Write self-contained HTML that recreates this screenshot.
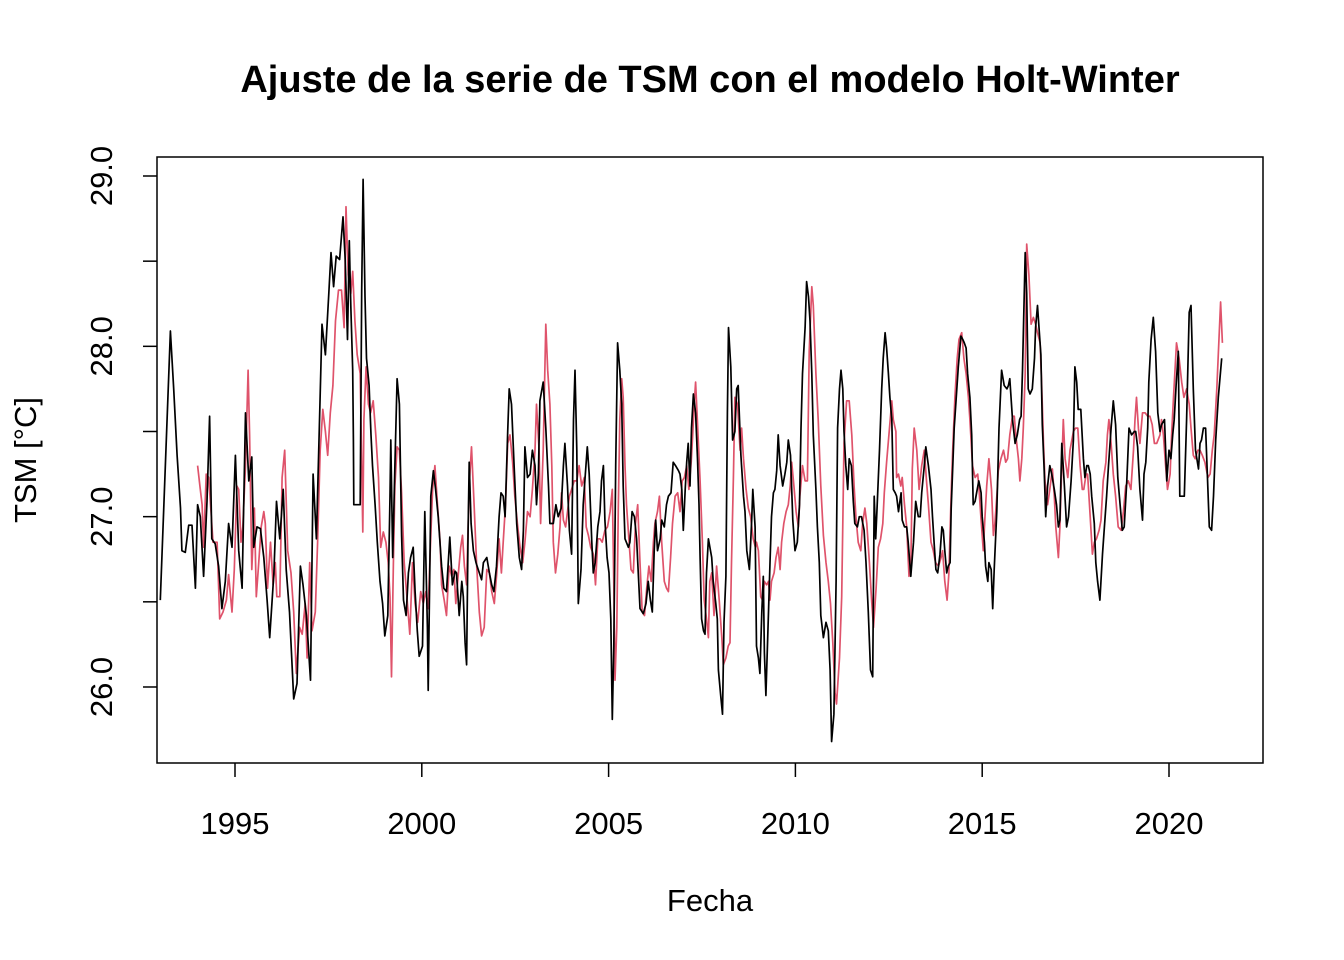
<!DOCTYPE html>
<html><head><meta charset="utf-8"><style>
html,body{margin:0;padding:0;background:#fff;}
svg{display:block;font-family:"Liberation Sans",Arial,sans-serif;}
</style></head><body>
<svg id="chart" width="1344" height="960" viewBox="0 0 1344 960" xmlns="http://www.w3.org/2000/svg">
<rect x="0" y="0" width="1344" height="960" fill="#fff"/>
<text x="710" y="92" text-anchor="middle" font-size="38" font-weight="bold">Ajuste de la serie de TSM con el modelo Holt-Winter</text>
<text x="710" y="911" text-anchor="middle" font-size="31">Fecha</text>
<text transform="translate(36,460) rotate(-90)" text-anchor="middle" font-size="31">TSM [°C]</text>
<g id="xaxis"></g>
<g id="yaxis"></g>
<g id="series"></g>
<rect x="157" y="157" width="1106" height="606" fill="none" stroke="#000" stroke-width="1.5"/>
</svg>
<script>
const xTicks=[1995,2000,2005,2010,2015,2020];
const yTicks=[26,26.5,27,27.5,28,28.5,29];
const yLabels=[26,27,28,29];
const blackT=[1993.00,1993.27,1993.36,1993.45,1993.54,1993.58,1993.67,1993.76,1993.85,1993.94,1994.00,1994.07,1994.16,1994.25,1994.32,1994.38,1994.47,1994.56,1994.65,1994.74,1994.83,1994.92,1995.01,1995.10,1995.19,1995.28,1995.37,1995.45,1995.50,1995.59,1995.68,1995.77,1995.86,1995.93,1996.04,1996.11,1996.20,1996.29,1996.37,1996.46,1996.57,1996.66,1996.75,1996.82,1996.91,1997.02,1997.09,1997.18,1997.27,1997.33,1997.42,1997.51,1997.57,1997.64,1997.71,1997.80,1997.89,1997.95,
1998.01,1998.06,1998.10,1998.15,1998.17,1998.18,1998.35,1998.39,1998.43,1998.48,1998.52,1998.59,1998.64,1998.68,1998.75,1998.81,1998.88,1998.95,1999.01,1999.09,1999.15,1999.17,1999.22,1999.28,1999.34,1999.40,1999.46,1999.51,1999.58,1999.64,1999.70,1999.77,1999.82,1999.88,1999.93,2000.02,2000.08,2000.15,2000.17,2000.24,2000.31,2000.37,2000.44,2000.53,2000.59,2000.66,2000.75,2000.82,2000.89,2000.93,2001.00,2001.07,2001.11,2001.16,2001.20,2001.24,2001.27,2001.32,2001.38,2001.45,2001.51,2001.60,2001.65,2001.74,2001.81,2001.87,2001.93,2002.00,2002.07,2002.12,2002.18,2002.23,2002.30,2002.34,2002.40,2002.47,2002.54,2002.61,2002.67,2002.72,
2002.76,2002.83,2002.90,2002.96,2003.03,2003.07,2003.12,2003.16,2003.25,2003.32,2003.39,2003.43,2003.52,2003.59,2003.65,2003.73,2003.79,2003.83,2003.90,2003.95,2004.01,2004.06,2004.10,2004.15,2004.19,2004.26,2004.32,2004.37,2004.43,2004.48,2004.55,2004.59,2004.64,2004.71,2004.77,2004.81,2004.86,2004.90,2004.96,2005.01,2005.06,2005.10,2005.14,2005.19,2005.24,2005.30,2005.35,2005.39,2005.44,2005.53,2005.57,2005.63,2005.69,2005.75,2005.84,2005.93,2006.00,2006.06,2006.12,2006.17,2006.22,2006.26,2006.31,2006.38,2006.42,2006.49,2006.55,2006.60,2006.67,2006.73,2006.79,2006.87,2006.91,2006.96,2007.00,2007.05,2007.09,2007.13,2007.18,2007.22,2007.27,2007.33,2007.38,2007.42,2007.45,2007.49,2007.54,2007.58,2007.62,2007.67,
2007.76,2007.80,2007.87,2007.91,2007.94,2008.00,2008.05,2008.09,2008.14,2008.18,2008.21,2008.27,2008.32,2008.38,2008.43,2008.47,2008.54,2008.61,2008.65,2008.70,2008.77,2008.83,2008.86,2008.92,2008.96,2009.01,2009.05,2009.10,2009.14,2009.17,2009.21,2009.28,2009.32,2009.36,2009.41,2009.45,2009.50,2009.54,2009.59,2009.66,2009.72,2009.77,2009.81,2009.87,2009.93,2009.99,2010.05,2010.11,2010.15,2010.19,2010.26,2010.30,2010.35,2010.39,2010.44,2010.48,2010.55,2010.59,2010.64,2010.68,2010.75,2010.82,2010.88,2010.93,2010.97,2011.03,2011.09,2011.13,2011.18,2011.22,2011.27,2011.30,2011.35,2011.40,2011.44,2011.50,2011.55,2011.59,2011.66,2011.71,2011.77,2011.84,2011.89,2011.95,2012.01,2012.07,2012.11,2012.15,2012.19,2012.25,2012.31,2012.35,2012.40,2012.44,2012.49,2012.53,2012.58,2012.62,
2012.67,2012.71,2012.76,2012.83,2012.86,2012.92,2012.98,2013.02,2013.09,2013.16,2013.22,2013.29,2013.34,2013.38,2013.45,2013.49,2013.56,2013.63,2013.67,2013.72,2013.76,2013.81,2013.87,2013.92,2013.96,2014.00,2014.05,2014.09,2014.14,2014.17,2014.25,2014.36,2014.43,2014.48,2014.52,2014.57,2014.61,2014.67,2014.72,2014.76,2014.81,2014.85,2014.91,2014.97,2015.00,2015.06,2015.09,2015.15,2015.18,2015.24,2015.28,2015.32,2015.39,2015.45,2015.52,2015.59,2015.66,2015.70,2015.74,2015.81,2015.88,2015.94,2016.00,2016.04,2016.08,2016.15,2016.19,2016.23,2016.28,2016.34,2016.40,2016.43,2016.48,2016.52,2016.57,2016.61,2016.66,2016.70,2016.75,2016.81,2016.86,2016.93,2016.99,2017.04,2017.08,2017.13,2017.20,2017.26,2017.31,2017.38,2017.44,
2017.48,2017.53,2017.57,2017.64,2017.71,2017.75,2017.80,2017.84,2017.89,2017.93,2018.00,2018.04,2018.09,2018.15,2018.22,2018.27,2018.33,2018.38,2018.45,2018.51,2018.57,2018.63,2018.69,2018.75,2018.80,2018.87,2018.93,2019.00,2019.07,2019.11,2019.16,2019.22,2019.29,2019.33,2019.38,2019.43,2019.46,2019.52,2019.58,2019.64,2019.70,2019.76,2019.80,2019.88,2019.94,2020.00,2020.05,2020.10,2020.14,2020.19,2020.25,2020.29,2020.34,2020.41,2020.47,2020.54,2020.59,2020.65,2020.71,2020.79,2020.83,2020.87,2020.92,2020.98,2021.04,2021.08,2021.14,2021.19,2021.25,2021.32,2021.41];
const blackV=[26.51,28.09,27.75,27.36,27.05,26.80,26.79,26.95,26.95,26.58,27.07,27.00,26.65,27.09,27.59,26.87,26.84,26.71,26.46,26.62,26.96,26.82,27.36,26.80,26.58,27.61,27.21,27.35,26.82,26.94,26.93,26.76,26.51,26.29,26.67,27.09,26.87,27.16,26.69,26.44,25.93,26.02,26.71,26.60,26.42,26.04,27.25,26.87,27.63,28.13,27.95,28.31,28.55,28.35,28.53,28.51,28.76,28.51,
28.04,28.62,28.24,27.86,27.45,27.07,27.07,28.33,28.98,28.29,27.93,27.77,27.48,27.30,27.07,26.85,26.62,26.49,26.30,26.42,27.12,27.45,26.76,27.30,27.81,27.66,26.89,26.51,26.42,26.67,26.76,26.82,26.56,26.33,26.18,26.24,27.03,26.35,25.98,27.12,27.27,27.16,27.00,26.71,26.58,26.56,26.88,26.60,26.68,26.67,26.42,26.62,26.53,26.26,26.13,26.92,27.32,26.96,26.80,26.73,26.69,26.63,26.73,26.76,26.67,26.60,26.56,26.71,27.00,27.14,27.12,27.00,27.50,27.75,27.66,27.30,26.96,26.76,26.69,26.92,
27.41,27.23,27.25,27.39,27.30,27.07,27.25,27.68,27.79,27.52,27.18,26.96,26.96,27.07,27.00,27.05,27.30,27.43,27.18,26.92,26.78,27.57,27.86,27.39,26.49,26.69,27.07,27.23,27.41,27.25,26.85,26.67,26.73,26.94,27.03,27.21,27.30,26.98,26.76,26.67,26.40,25.81,26.24,27.30,28.02,27.86,27.66,27.18,26.87,26.82,26.85,27.03,27.00,26.87,26.46,26.43,26.49,26.62,26.51,26.44,26.80,26.98,26.80,26.87,26.98,26.94,27.07,27.12,27.14,27.32,27.30,27.27,27.25,27.16,26.92,27.16,27.32,27.43,27.18,27.52,27.72,27.61,27.34,27.07,26.76,26.40,26.33,26.31,26.67,26.87,26.76,
26.62,26.49,26.40,26.10,25.95,25.84,26.38,26.65,27.61,28.11,27.88,27.45,27.50,27.75,27.77,27.36,27.12,27.03,26.80,26.69,26.98,27.16,26.94,26.24,26.17,26.08,26.44,26.65,26.20,25.95,26.44,26.73,27.00,27.14,27.16,27.27,27.48,27.30,27.18,27.25,27.32,27.45,27.36,26.98,26.80,26.85,27.07,27.52,27.84,28.11,28.38,28.29,28.15,27.84,27.48,27.16,26.94,26.73,26.42,26.29,26.38,26.33,26.10,25.68,25.84,26.62,27.52,27.75,27.86,27.75,27.50,27.30,27.16,27.34,27.30,27.09,26.96,26.94,27.00,27.00,26.92,26.73,26.44,26.10,26.06,27.12,26.87,27.07,27.39,27.75,27.93,28.08,27.99,27.84,27.70,27.57,27.16,27.14,27.12,27.03,
27.14,26.98,26.94,26.94,26.85,26.65,26.85,27.09,27.00,27.00,27.14,27.30,27.41,27.30,27.16,27.00,26.82,26.69,26.67,26.78,26.94,26.92,26.80,26.67,26.71,26.73,27.05,27.52,27.88,28.06,28.04,28.02,27.99,27.84,27.70,27.48,27.07,27.09,27.14,27.21,27.14,27.00,26.85,26.71,26.62,26.73,26.69,26.46,26.69,27.03,27.52,27.86,27.77,27.75,27.77,27.81,27.57,27.43,27.48,27.57,27.59,27.86,28.55,28.31,27.75,27.72,27.75,27.93,28.11,28.24,28.11,27.95,27.54,27.27,27.00,27.18,27.30,27.25,27.16,27.07,26.94,26.98,27.43,27.18,26.94,27.00,27.21,27.45,27.88,27.79,27.63,
27.63,27.34,27.23,27.30,27.30,27.25,27.12,26.96,26.73,26.62,26.51,26.78,26.94,27.12,27.30,27.52,27.68,27.54,27.23,27.07,26.92,26.94,27.21,27.52,27.48,27.50,27.50,27.41,27.16,26.98,27.25,27.32,27.52,27.79,28.04,28.17,27.97,27.61,27.50,27.54,27.57,27.21,27.39,27.34,27.48,27.57,27.77,27.97,27.12,27.12,27.12,27.57,28.20,28.24,27.75,27.39,27.28,27.43,27.45,27.52,27.52,27.16,26.94,26.92,27.12,27.45,27.70,27.93,27.90,27.94,27.94];
const redT=[1994.00,1994.07,1994.12,1994.16,1994.23,1994.30,1994.34,1994.41,1994.52,1994.59,1994.68,1994.77,1994.83,1994.92,1994.98,1995.05,1995.10,1995.16,1995.21,1995.28,1995.35,1995.39,1995.45,1995.52,1995.57,1995.63,1995.70,1995.77,1995.81,1995.87,1995.95,1996.02,1996.08,1996.12,1996.20,1996.26,1996.33,1996.41,1996.50,1996.57,1996.64,1996.73,1996.80,1996.88,1996.93,1997.00,1997.06,1997.15,1997.21,1997.28,1997.35,1997.42,1997.48,1997.55,1997.62,1997.69,1997.77,
1997.85,1997.92,1997.97,1998.03,1998.10,1998.15,1998.21,1998.27,1998.35,1998.42,1998.45,1998.51,1998.57,1998.63,1998.70,1998.77,1998.84,1998.90,1998.97,1999.04,1999.10,1999.15,1999.19,1999.24,1999.28,1999.34,1999.40,1999.46,1999.53,1999.59,1999.68,1999.75,1999.82,1999.89,1999.97,2000.04,2000.11,2000.17,2000.24,2000.29,2000.35,2000.42,2000.49,2000.53,2000.60,2000.66,2000.73,2000.80,2000.86,2000.91,2000.98,2001.04,2001.09,2001.14,2001.20,2001.27,2001.33,2001.40,2001.47,2001.54,2001.60,2001.67,2001.74,2001.81,2001.87,2001.94,2002.00,2002.07,2002.13,2002.18,2002.24,2002.30,2002.36,2002.43,2002.49,2002.56,2002.63,2002.70,
2002.76,2002.83,2002.90,2002.96,2003.03,2003.07,2003.14,2003.18,2003.25,2003.32,2003.37,2003.43,2003.48,2003.52,2003.58,2003.64,2003.70,2003.74,2003.79,2003.85,2003.90,2003.95,2004.01,2004.08,2004.15,2004.21,2004.28,2004.35,2004.40,2004.46,2004.52,2004.59,2004.65,2004.71,2004.77,2004.83,2004.90,2004.97,2005.04,2005.10,2005.14,2005.17,2005.22,2005.26,2005.30,2005.35,2005.39,2005.44,2005.48,2005.55,2005.60,2005.66,2005.72,2005.78,2005.84,2005.90,2005.96,2006.02,2006.08,2006.14,2006.20,2006.24,2006.31,2006.36,2006.42,2006.49,2006.55,2006.60,2006.66,2006.71,2006.78,2006.85,2006.91,2006.97,2007.03,2007.09,2007.15,2007.21,2007.25,2007.29,2007.33,2007.38,2007.45,2007.51,2007.56,2007.62,2007.67,
2007.71,2007.76,2007.82,2007.89,2007.96,2008.03,2008.07,2008.14,2008.20,2008.25,2008.29,2008.34,2008.38,2008.45,2008.52,2008.56,2008.61,2008.68,2008.74,2008.80,2008.87,2008.93,2008.96,2009.01,2009.07,2009.12,2009.17,2009.23,2009.28,2009.32,2009.36,2009.43,2009.48,2009.54,2009.59,2009.63,2009.69,2009.75,2009.81,2009.86,2009.90,2009.96,2010.02,2010.08,2010.12,2010.19,2010.26,2010.32,2010.37,2010.44,2010.48,2010.55,2010.61,2010.68,2010.75,2010.82,2010.88,2010.94,2011.00,2011.06,2011.10,2011.18,2011.24,2011.30,2011.37,2011.44,2011.51,2011.57,2011.62,2011.68,2011.75,2011.80,2011.86,2011.91,2011.98,2012.04,2012.09,2012.16,2012.22,2012.28,2012.34,2012.38,2012.44,2012.51,2012.58,2012.62,2012.69,
2012.71,2012.76,2012.82,2012.86,2012.92,2012.98,2013.04,2013.09,2013.13,2013.18,2013.25,2013.31,2013.38,2013.45,2013.51,2013.56,2013.63,2013.69,2013.75,2013.83,2013.90,2013.94,2014.00,2014.06,2014.11,2014.17,2014.21,2014.27,2014.33,2014.38,2014.45,2014.51,2014.57,2014.63,2014.67,2014.74,2014.81,2014.88,2014.91,2014.97,2015.03,2015.07,2015.12,2015.18,2015.25,2015.30,2015.34,2015.39,2015.43,2015.50,2015.57,2015.63,2015.68,2015.74,2015.81,2015.86,2015.90,2015.97,2016.01,2016.06,2016.10,2016.15,2016.19,2016.25,2016.31,2016.37,2016.43,2016.48,2016.55,2016.59,2016.64,2016.68,2016.75,2016.81,2016.88,2016.93,2016.97,2017.04,2017.08,2017.13,2017.17,2017.22,2017.29,2017.35,2017.44,
2017.50,2017.56,2017.62,2017.68,2017.72,2017.78,2017.82,2017.89,2017.95,2018.00,2018.06,2018.13,2018.18,2018.24,2018.31,2018.35,2018.39,2018.45,2018.51,2018.57,2018.64,2018.72,2018.78,2018.84,2018.91,2018.98,2019.05,2019.09,2019.13,2019.18,2019.22,2019.29,2019.36,2019.43,2019.49,2019.55,2019.61,2019.67,2019.76,2019.80,2019.85,2019.91,2019.96,2020.03,2020.07,2020.12,2020.16,2020.20,2020.27,2020.34,2020.40,2020.47,2020.54,2020.59,2020.65,2020.70,2020.77,2020.83,2020.89,2020.96,2021.04,2021.10,2021.16,2021.21,2021.28,2021.34,2021.38,2021.43];
const redV=[27.30,27.16,27.07,26.82,27.25,27.23,27.09,26.85,26.85,26.40,26.44,26.51,26.66,26.44,26.69,27.18,27.16,26.85,26.94,27.30,27.86,27.48,26.69,27.05,26.53,26.71,26.94,27.03,26.96,26.58,26.85,26.60,26.73,26.53,26.53,27.23,27.39,26.80,26.67,26.44,26.08,26.35,26.31,26.49,26.17,26.73,26.33,26.44,26.85,27.39,27.63,27.50,27.36,27.61,27.77,28.15,28.33,
28.33,28.11,28.82,28.42,28.31,28.44,28.15,27.95,27.84,26.91,27.57,27.88,27.66,27.61,27.68,27.48,27.23,26.82,26.91,26.85,26.73,26.53,26.06,26.73,27.18,27.41,27.39,27.14,26.73,26.56,26.31,26.73,26.49,26.38,26.56,26.49,26.56,26.46,26.89,27.16,27.30,27.07,26.85,26.60,26.51,26.42,26.71,26.65,26.69,26.49,26.67,26.82,26.89,26.71,26.60,27.18,27.41,27.07,26.71,26.44,26.30,26.35,26.69,26.67,26.56,26.49,26.65,26.87,26.67,26.85,27.07,27.43,27.48,27.32,27.12,26.96,26.82,26.73,
26.85,27.03,27.00,27.16,27.39,27.66,27.39,26.96,27.39,28.13,27.86,27.66,27.30,26.85,26.67,26.78,26.94,27.14,26.98,26.94,27.03,27.12,27.16,27.21,27.21,27.30,27.18,27.23,26.94,26.89,26.82,26.78,26.60,26.87,26.87,26.85,26.92,26.94,27.03,27.16,26.60,26.04,26.35,27.05,27.57,27.81,27.70,27.30,27.07,26.85,26.69,26.67,26.96,27.07,26.73,26.44,26.42,26.58,26.71,26.62,26.85,26.96,27.03,27.12,26.85,26.62,26.58,26.56,26.76,26.96,27.12,27.14,27.03,27.21,27.23,27.30,27.16,27.32,27.48,27.66,27.79,27.55,27.21,26.85,26.51,26.40,26.29,26.62,26.67,
26.42,26.71,26.51,26.29,26.13,26.17,26.24,26.26,26.73,27.23,27.70,27.66,27.39,27.52,27.34,27.16,27.05,27.00,26.87,26.82,26.85,26.80,26.53,26.51,26.62,26.60,26.62,26.51,26.62,26.67,26.76,26.82,26.69,26.85,26.96,27.03,27.07,27.18,27.32,27.18,27.03,26.94,27.12,27.30,27.21,27.21,27.97,28.35,28.24,27.84,27.57,27.18,26.89,26.73,26.62,26.49,26.26,25.97,25.90,26.17,26.53,27.43,27.68,27.68,27.48,27.18,27.00,26.85,26.80,26.96,27.05,26.96,26.73,26.51,26.35,26.58,26.82,26.87,26.96,27.14,27.32,27.50,27.68,27.57,27.50,27.23,27.25,
27.18,27.23,27.07,26.94,26.65,26.69,27.28,27.52,27.39,27.16,27.30,27.39,27.21,27.07,26.85,26.80,26.73,26.71,26.76,26.80,26.62,26.51,26.67,27.14,27.39,27.70,27.93,28.04,28.08,27.93,27.84,27.70,27.57,27.30,27.23,27.25,27.18,26.98,26.80,26.98,27.18,27.34,27.16,26.89,26.96,27.12,27.27,27.34,27.39,27.32,27.34,27.48,27.59,27.59,27.48,27.34,27.21,27.34,27.52,27.84,28.60,28.42,28.13,28.17,28.13,28.08,28.02,27.79,27.43,27.21,27.07,27.16,27.28,27.12,26.94,26.76,26.94,27.30,27.57,27.34,27.23,27.39,27.50,27.52,27.52,
27.30,27.16,27.16,27.25,27.25,27.00,26.78,26.85,26.87,26.92,26.98,27.21,27.32,27.48,27.57,27.43,27.25,27.12,26.94,26.92,27.03,27.18,27.21,27.16,27.39,27.57,27.70,27.52,27.43,27.61,27.61,27.59,27.59,27.54,27.43,27.43,27.48,27.57,27.48,27.30,27.16,27.25,27.48,27.70,27.86,28.02,27.93,27.79,27.70,27.75,27.66,27.52,27.36,27.34,27.39,27.39,27.36,27.32,27.23,27.25,27.39,27.48,27.75,28.06,28.26,28.02,27.90];

const NS='http://www.w3.org/2000/svg';
function xs(t){return 235+(t-1995)*37.36;}
function ys(v){return 176+(29-v)*170.33;}
const xa=document.getElementById('xaxis'),ya=document.getElementById('yaxis'),sg=document.getElementById('series');
function mk(tag,attrs,parent){const e=document.createElementNS(NS,tag);for(const k in attrs)e.setAttribute(k,attrs[k]);parent.appendChild(e);return e;}
xTicks.forEach(function(t){
  const l=mk('line',{x1:xs(t),x2:xs(t),y1:763,y2:777,stroke:'#000','stroke-width':1.5},xa);
  
  
  const tx=mk('text',{x:xs(t),y:834,'text-anchor':'middle','font-size':31},xa);
  
  
  tx.textContent=t;
});
yTicks.forEach(function(v){
  const l=mk('line',{x1:143,x2:157,y1:ys(v),y2:ys(v),stroke:'#000','stroke-width':1.5},ya);
  
  
});
yLabels.forEach(function(v){
  const tx=mk('text',{transform:'translate(112,'+ys(v)+') rotate(-90)','text-anchor':'middle','font-size':31},ya);
  
  
  tx.textContent=v.toFixed(1);
});
function line(T,V,color,name){
  const pts=T.map(function(t,i){return xs(t).toFixed(1)+','+ys(V[i]).toFixed(1);}).join(' ');
  const p=mk('polyline',{points:pts,fill:'none',stroke:color,'stroke-width':1.7,'stroke-linejoin':'round'},sg);
  
  
}
line(redT,redV,'#DF536B','fitted-series-line');
line(blackT,blackV,'#000000','observed-series-line');
</script>
</body></html>
